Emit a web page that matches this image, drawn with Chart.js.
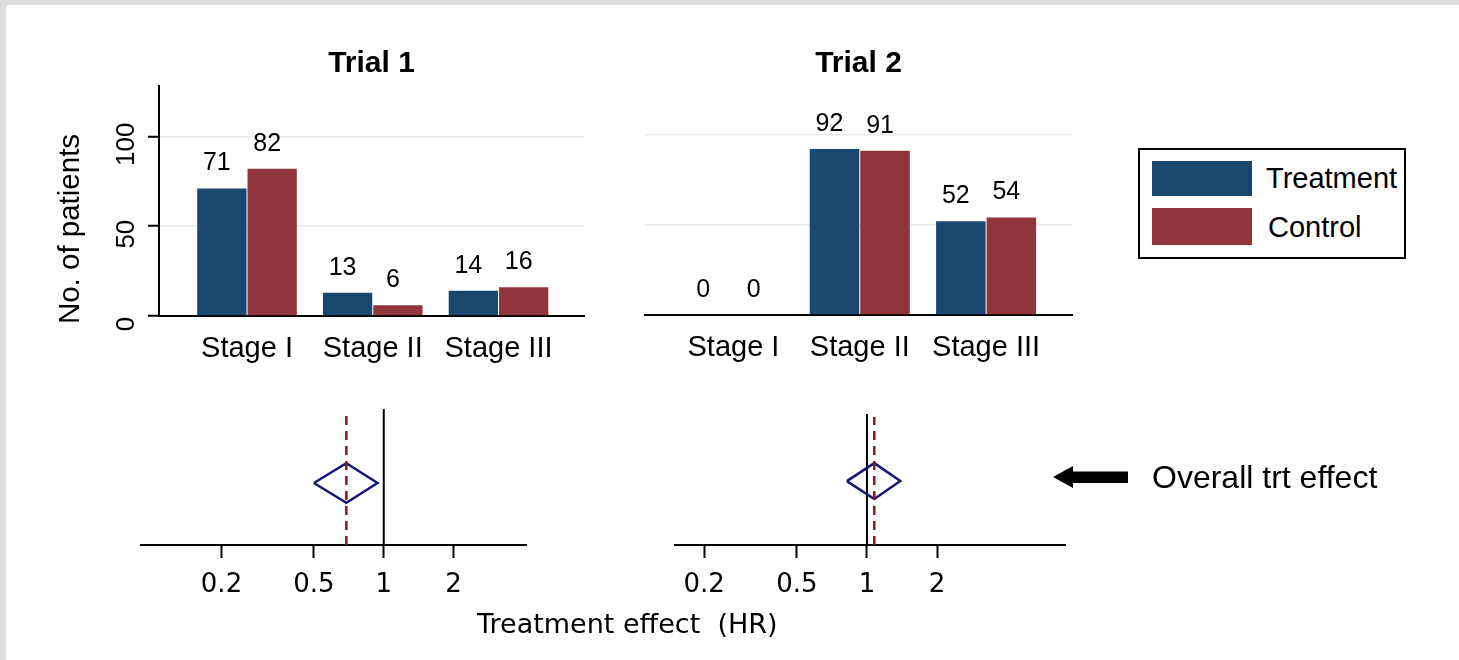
<!DOCTYPE html>
<html>
<head>
<meta charset="utf-8">
<title>Trial 1 / Trial 2</title>
<script src="https://cdn.jsdelivr.net/npm/chart.js@4.4.1/dist/chart.umd.min.js"></script>
<style>
  html, body { margin: 0; padding: 0; }
  body { width: 1459px; height: 660px; background: #dddddd; position: relative; overflow: hidden;
         font-family: "Liberation Sans", Arial, sans-serif; color: #000; }
  #sheet { position: absolute; left: 6px; top: 5px; right: 0; bottom: 0; background: #fff; }
  canvas.layer { position: absolute; left: 0; top: 0; }
  .legend { position: absolute; left: 1138px; top: 148px; width: 264px; height: 107px; border: 2px solid #000; background: #fff; }
  .legend .sw { position: absolute; left: 12px; width: 100px; }
  .legend .lt { position: absolute; height: 40px; line-height: 40px; font-size: 29px; white-space: nowrap; }
  .note { position: absolute; left: 1152px; top: 457px; height: 40px; line-height: 40px; font-size: 32px; white-space: nowrap; }
  .xtitle { position: absolute; left: 477px; top: 604px; height: 40px; line-height: 40px; font-size: 27px;
            font-family: "DejaVu Sans", Verdana, sans-serif; white-space: pre; }
  svg.arrow { position: absolute; left: 1050px; top: 462px; }
</style>
</head>
<body>
<div id="sheet"></div>
<canvas id="trial1" class="layer" width="1459" height="660"></canvas>
<canvas id="trial2" class="layer" width="1459" height="660"></canvas>
<canvas id="forest1" class="layer" width="1459" height="660"></canvas>
<canvas id="forest2" class="layer" width="1459" height="660"></canvas>

<div class="legend">
  <div class="sw" style="top:11px;height:35px;background:#1a476f"></div>
  <div class="lt" style="left:126px;top:8px">Treatment</div>
  <div class="sw" style="top:58px;height:37px;background:#90353b"></div>
  <div class="lt" style="left:128px;top:57px">Control</div>
</div>

<svg class="arrow" width="80" height="30">
  <polygon points="3,15 23,4 23,9.5 78,9.5 78,21 23,21 23,26" fill="#000"/>
</svg>
<div class="note">Overall trt effect</div>
<div class="xtitle">Treatment effect  (HR)</div>

<script>
// data
const stages = ["Stage I", "Stage II", "Stage III"];
const trial1Treatment = [71, 13, 14];
const trial1Control = [82, 6, 16];
const trial2Treatment = [0, 92, 52];
const trial2Control = [0, 91, 54];
const countTicks = [0, 50, 100];

const hrTicks = [0.2, 0.5, 1, 2];
const hrEstimate = [0.69, 1.075];
const hrLower = [0.5, 0.82];
const hrUpper = [0.94, 1.39];

const SANS = '"Liberation Sans", Arial, sans-serif';
const W = 1459, H = 660;
const AXIS_BAND = 70; // room under each x axis for its tick labels

// numbers over the bars
const valueLabels = {
    id: "valueLabels",
    afterDatasetsDraw(chart) {
        let ctx = chart.ctx;
        ctx.save();
        ctx.font = "25px " + SANS;
        ctx.fillStyle = "#000";
        ctx.textAlign = "center";
        ctx.textBaseline = "middle";
        chart.data.datasets.forEach((ds, i) => {
            chart.getDatasetMeta(i).data.forEach((bar, j) => {
                ctx.fillText(String(ds.data[j].y), bar.x - 5, bar.y - 25);
            });
        });
        ctx.restore();
    }
};

// rotated y tick labels + axis title (Trial 1 only)
const countAxisText = {
    id: "countAxisText",
    afterDraw(chart) {
        let ctx = chart.ctx;
        let y = chart.scales.y;
        ctx.save();
        ctx.fillStyle = "#000";
        ctx.textAlign = "center";
        ctx.textBaseline = "middle";
        ctx.font = "26px " + SANS;
        countTicks.forEach(v => {
            ctx.save();
            ctx.translate(127, y.getPixelForValue(v) + 8);
            ctx.rotate(-Math.PI / 2);
            ctx.fillText(String(v), 0, 0);
            ctx.restore();
        });
        ctx.font = "29.5px " + SANS;
        ctx.translate(71, 229);
        ctx.rotate(-Math.PI / 2);
        ctx.fillText("No. of patients", 0, 0);
        ctx.restore();
    }
};

function barChart(id, title, treatment, control, area, withAxis) {
    let plugins = [valueLabels];
    if (withAxis) plugins.push(countAxisText);
    return new Chart(document.getElementById(id), {
        type: "bar",
        data: {
            datasets: [
                { label: "Treatment", data: treatment.map((v, i) => ({ x: i, y: v })),
                  backgroundColor: "#1a476f", categoryPercentage: 0.8, barPercentage: 0.98 },
                { label: "Control", data: control.map((v, i) => ({ x: i, y: v })),
                  backgroundColor: "#90353b", categoryPercentage: 0.8, barPercentage: 0.98 }
            ]
        },
        options: {
            responsive: false,
            animation: false,
            layout: { padding: { left: area.left, right: W - area.right, top: 46, bottom: H - area.bottom - AXIS_BAND } },
            plugins: {
                legend: { display: false },
                tooltip: { enabled: false },
                title: {
                    display: true,
                    text: title,
                    color: "#000",
                    font: { family: SANS, size: 30, weight: "bold" },
                    padding: { top: 0, bottom: area.top - 46 - 36 }
                }
            },
            scales: {
                x: {
                    type: "linear",
                    offset: false,
                    bounds: "data",
                    min: -0.7,
                    max: 2.68,
                    afterFit: s => { s.height = AXIS_BAND; },
                    afterBuildTicks: s => { s.ticks = stages.map((_, i) => ({ value: i })); },
                    ticks: {
                        callback: v => stages[v],
                        font: { family: SANS, size: 29 },
                        color: "#000",
                        padding: 16,
                        autoSkip: false,
                        maxRotation: 0
                    },
                    grid: { display: false, drawTicks: false, offset: false },
                    border: { display: true, color: "#000", width: 2 }
                },
                y: {
                    min: 0,
                    max: 128,
                    afterFit: s => { s.width = 0; },
                    afterBuildTicks: s => { s.ticks = countTicks.map(v => ({ value: v })); },
                    ticks: { display: false },
                    grid: {
                        color: c => (c.tick && c.tick.value === 0) ? "rgba(0,0,0,0)" : "#e4ecf0",
                        lineWidth: 1.5,
                        drawTicks: withAxis,
                        tickLength: 11,
                        tickColor: "#000",
                        tickWidth: 2
                    },
                    border: { display: withAxis, color: "#000", width: 2 }
                }
            }
        },
        plugins: plugins
    });
}

function forestChart(id, k, area, xRange, shape) {
    let est = hrEstimate[k], lo = hrLower[k], hi = hrUpper[k];
    let diamond = [
        { x: lo, y: shape.mid },
        { x: est, y: shape.mid + shape.half },
        { x: hi, y: shape.mid },
        { x: est, y: shape.mid - shape.half },
        { x: lo, y: shape.mid }
    ];
    return new Chart(document.getElementById(id), {
        type: "scatter",
        data: {
            datasets: [
                { data: [{ x: est, y: 0 }, { x: est, y: shape.dashTop }], borderColor: "#8b1a1a",
                  borderWidth: 2.5, borderDash: [9, 6], showLine: true, pointRadius: 0 },
                { data: diamond, borderColor: "#16167a", borderWidth: 2.5, borderJoinStyle: "miter",
                  showLine: true, pointRadius: 0, fill: false },
                { data: [{ x: 1, y: 0 }, { x: 1, y: shape.nullTop }], borderColor: "#000",
                  borderWidth: 2, showLine: true, pointRadius: 0 }
            ]
        },
        options: {
            responsive: false,
            animation: false,
            layout: { padding: { left: area.left, right: W - area.right, top: area.top, bottom: H - area.bottom - AXIS_BAND } },
            plugins: { legend: { display: false }, tooltip: { enabled: false } },
            scales: {
                x: {
                    type: "logarithmic",
                    min: xRange[0],
                    max: xRange[1],
                    afterFit: s => { s.height = AXIS_BAND; },
                    afterBuildTicks: s => { s.ticks = hrTicks.map(v => ({ value: v })); },
                    ticks: {
                        callback: v => String(v),
                        font: { family: '"DejaVu Sans", Verdana, sans-serif', size: 26 },
                        color: "#000",
                        padding: 12,
                        autoSkip: false,
                        maxRotation: 0
                    },
                    grid: { drawOnChartArea: false, drawTicks: true, tickLength: 13, tickColor: "#000", tickWidth: 2 },
                    border: { color: "#000", width: 2 }
                },
                y: { display: false, min: 0, max: 1 }
            }
        }
    });
}

barChart("trial1", "Trial 1", trial1Treatment, trial1Control, { left: 159, right: 584, top: 86, bottom: 316 }, true);
barChart("trial2", "Trial 2", trial2Treatment, trial2Control, { left: 645, right: 1072, top: 84, bottom: 315 }, false);

forestChart("forest1", 0, { left: 141, right: 526, top: 409, bottom: 545 }, [0.09, 4.1],
    { mid: 0.456, half: 0.145, dashTop: 0.978, nullTop: 1 });
forestChart("forest2", 1, { left: 675, right: 1065, top: 409, bottom: 545 }, [0.15, 7.08],
    { mid: 0.47, half: 0.132, dashTop: 0.941, nullTop: 0.963 });
</script>
</body>
</html>
